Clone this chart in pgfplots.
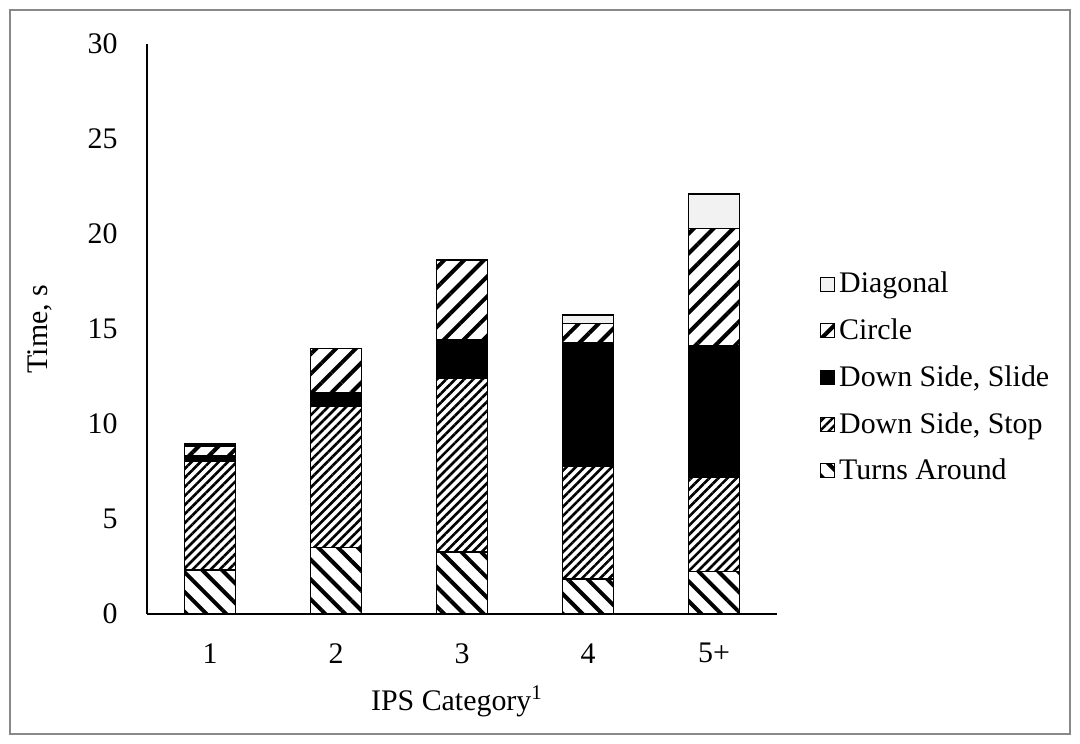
\documentclass[border=0pt]{standalone}
\usepackage{fontspec}
\setmainfont{Liberation Serif}
\usepackage{pgfplots}
\usepackage{pgfplotstable}
\pgfplotsset{compat=1.18}
\usetikzlibrary{patterns.meta}
\definecolor{diaggray}{RGB}{242,242,242}
\definecolor{framegray}{RGB}{137,137,137}

\pgfplotstableread{
x Turns Stop Slide Circle Diag
0 2.32 5.73 0.27 0.52 0.11
1 3.49 7.42 0.76 2.31 0.00
2 3.26 9.16 2.00 4.18 0.04
3 1.84 5.95 6.49 1.02 0.44
4 2.23 4.95 6.94 6.18 1.80
}\datatable

\begin{document}
\begin{tikzpicture}
\useasboundingbox (0,0) rectangle (540bp,372bp);
\draw[framegray, line width=1bp] (5bp,5bp) rectangle (535bp,367bp);
\begin{axis}[
  at={(73.5bp,65bp)}, anchor=south west,
  scale only axis, width=315bp, height=285bp,
  ybar stacked, bar width=25.5bp,
  xmin=-0.5, xmax=4.5, ymin=0, ymax=30,
  xtick={0,1,2,3,4}, xticklabels={1,2,3,4,5+},
  ytick={0,5,10,15,20,25,30},
  axis x line*=bottom, axis y line*=left,
  axis line style={black, line width=0.9bp, -},
  tick style={draw=none},
  /pgf/number format/assume math mode=true,
  tick label style={font=\fontsize{15}{18}\selectfont},
  xticklabel style={inner sep=0pt, anchor=north, yshift=-14.5bp},
  yticklabel style={inner sep=0pt, anchor=east, xshift=-14.5bp},
  xlabel={IPS Category\textsuperscript{1}},
  ylabel={Time, s},
  label style={font=\fontsize{15}{18}\selectfont},
  xlabel style={at={(axis description cs:0.5,0)}, anchor=base, yshift=-48bp, xshift=-2.5bp},
  ylabel style={at={(axis description cs:-0.17,0.5)}, anchor=center, rotate=0},
  every axis plot/.append style={draw=black, line width=0.75bp},
  legend image code/.code={\draw[#1, line width=0.5bp] (0bp,-3.5bp) rectangle (7bp,3.5bp);},
  reverse legend,
  legend cell align=left,
  legend style={draw=none, fill=none, at={(1.068,0.415)}, anchor=west,
    font=\fontsize{15}{18}\selectfont, row sep=7.5bp, inner sep=0pt,
    /tikz/every even column/.append style={column sep=0pt}},
]
\addplot[pattern={Lines[angle=-45,distance=7bp,line width=2bp]}, pattern color=black] table[x=x,y=Turns] {\datatable};
\addplot[pattern={Lines[angle=45,distance=3.2bp,line width=1.3bp]}, pattern color=black] table[x=x,y=Stop] {\datatable};
\addplot[fill=black] table[x=x,y=Slide] {\datatable};
\addplot[pattern={Lines[angle=45,distance=7bp,line width=2bp]}, pattern color=black] table[x=x,y=Circle] {\datatable};
\addplot[fill=diaggray] table[x=x,y=Diag] {\datatable};
\legend{Turns Around, {Down Side, Stop}, {Down Side, Slide}, Circle, Diagonal}
\end{axis}
\end{tikzpicture}
\end{document}
